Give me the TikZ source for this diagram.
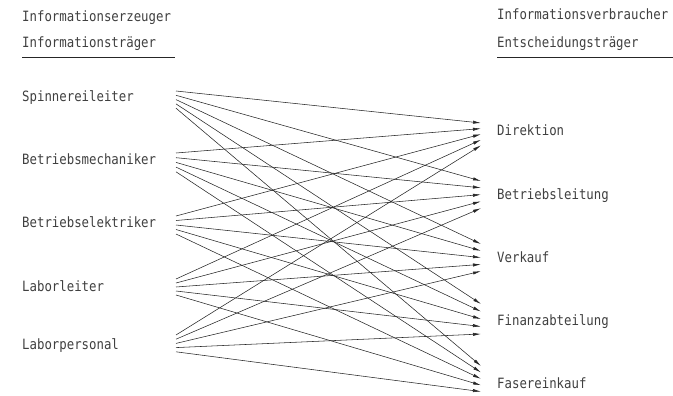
\documentclass[tikz,border=0pt]{standalone}
\usepackage{fontspec}
\setmainfont[FakeStretch=0.87]{DejaVu Sans Mono}
\usetikzlibrary{arrows.meta}
\begin{document}
\begin{tikzpicture}[x=1pt,y=-1pt,
  lbl/.style={anchor=mid west, inner sep=0pt, font=\fontsize{14.2}{16}\selectfont, text=black!75},
  conn/.style={draw=black!85, line width=0.55pt, -{Latex[length=8pt,width=3.2pt]}},
  rulebar/.style={draw=black!85, line width=0.9pt}]
\useasboundingbox (0,0) rectangle (673,396);
% headers
\node[lbl] (hl1) at (22,19) {Informationserzeuger};
\node[lbl] (hl2) at (22,45) {Informationsträger};
\node[lbl] (hr1) at (497,17) {Informationsverbraucher};
\node[lbl] (hr2) at (497,45) {Entscheidungsträger};
\draw[rulebar] (22,57) -- (175,57);
\draw[rulebar] (497,57) -- (673,57);
% sources
\foreach \i/\name/\ty/\by/\dy in {0/Spinnereileiter/99/91/4.3, 1/Betriebsmechaniker/162/153/4.7, 2/Betriebselektriker/225/216/4.5, 3/Laborleiter/289/279/4.0, 4/Laborpersonal/347/335/4.2}{
  \node[lbl] (src\i) at (22,\ty) {\name};
  \foreach \j in {0,...,4}{
    \coordinate (s\i\j) at (176,\by+\dy*\j);
  }
}
% targets
\foreach \j/\name/\ty/\by/\dy in {0/Direktion/133/123/5.6, 1/Betriebsleitung/197/181/6.8, 2/Verkauf/260/244/6.8, 3/Finanzabteilung/323/304/7.5, 4/Fasereinkauf/386/366/6.4}{
  \node[lbl] (tgt\j) at (497,\ty) {\name};
  \foreach \i in {0,...,4}{
    \coordinate (t\j\i) at (481,\by+\dy*\i);
  }
}
% connectors
\foreach \i in {0,...,4}{
  \foreach \j in {0,...,4}{
    \draw[conn] (s\i\j) -- (t\j\i);
  }
}
\end{tikzpicture}
\end{document}
